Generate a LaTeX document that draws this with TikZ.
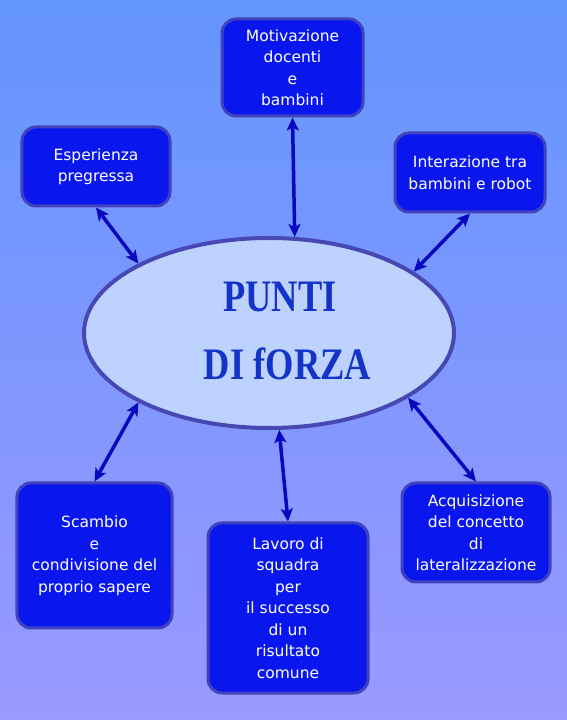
\documentclass[tikz,border=0pt]{standalone}
\usepackage{fontspec}
\setsansfont{DejaVu Sans}
\newfontfamily\titlefontfam[FakeStretch=0.81]{Liberation Serif}
\usetikzlibrary{shapes.geometric,arrows.meta}
\definecolor{bgtop}{RGB}{100,149,255}
\definecolor{bgbot}{RGB}{153,153,255}
\definecolor{boxfill}{RGB}{10,22,238}
\definecolor{boxline}{RGB}{66,66,190}
\definecolor{ellfill}{RGB}{190,210,255}
\definecolor{ellline}{RGB}{72,72,180}
\definecolor{arrowcol}{RGB}{8,8,190}
\definecolor{titlecol}{RGB}{20,52,200}
\newcommand\boxfontcmd{\fontsize{15.5bp}{21.5bp}\selectfont\sffamily}
\newcommand\titlefontcmd{\fontsize{45bp}{50bp}\selectfont\titlefontfam\bfseries}
\tikzset{
  infobox/.style={draw=boxline, fill=boxfill, line width=3bp, rounded corners=14bp,
    text=white, align=center, inner sep=0pt, font=\boxfontcmd},
  centerell/.style={draw=ellline, fill=ellfill, line width=4bp, ellipse, inner sep=0pt},
  titletext/.style={text=titlecol, font=\titlefontcmd, inner sep=0pt, anchor=base},
  link/.style={draw=arrowcol, line width=3.5bp, {Stealth[length=13bp,width=12bp,inset=3bp]}-{Stealth[length=13bp,width=12bp,inset=3bp]}}
}
\begin{document}
\begin{tikzpicture}[x=1bp,y=1bp]
\shade[top color=bgtop, bottom color=bgbot] (0,0) rectangle (567,720);
\useasboundingbox (0,0) rectangle (567,720);

\node[centerell, minimum width=370bp, minimum height=190bp] (ell) at (269,387) {};
\node[titletext] (t1) at (280,408) {PUNTI};
\node[titletext] (t2) at (287.5,340) {DI fORZA};

\node[infobox, minimum width=141bp, minimum height=97bp] (b1) at (292.5,652.5)
  {Motivazione\\docenti\\e\\bambini};
\node[infobox, minimum width=148bp, minimum height=79bp] (b2) at (96,553.5)
  {Esperienza\\pregressa};
\node[infobox, minimum width=150bp, minimum height=79bp] (b3) at (470,547.5)
  {Interazione tra\\bambini e robot};
\node[infobox, minimum width=155bp, minimum height=145bp] (b4) at (94.5,164.5)
  {Scambio\\e\\condivisione del\\proprio sapere};
\node[infobox, minimum width=160bp, minimum height=170bp] (b5) at (288,112)
  {Lavoro di\\squadra\\per\\il successo\\di un\\risultato\\comune};
\node[infobox, minimum width=148bp, minimum height=99bp] (b6) at (476,187.5)
  {Acquisizione\\del concetto\\di\\lateralizzazione};

\draw[link] (b1.south) -- (ell.75);
\draw[link] (b2.south) -- (ell.152.7);
\draw[link] (b3.south) -- (ell.23.7);
\draw[link] (b4.north) -- (ell.208);
\draw[link] (b5.north) -- (ell.276.5);
\draw[link] (b6.north) -- (ell.335.4);
\end{tikzpicture}
\end{document}
